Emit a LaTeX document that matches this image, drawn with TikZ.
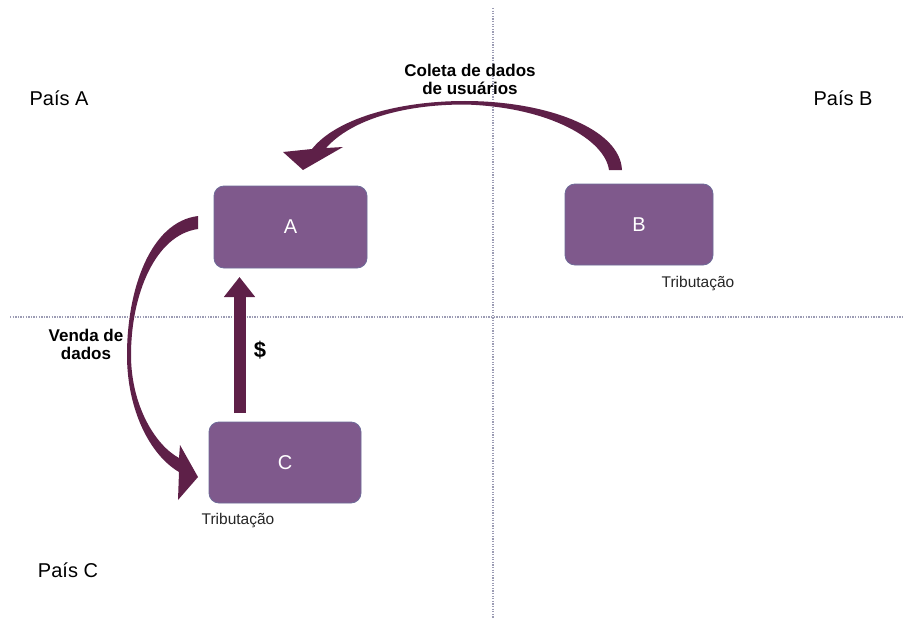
\documentclass[tikz,border=0pt]{standalone}
\usepackage{fontspec}
\setmainfont{Liberation Sans}
\usetikzlibrary{arrows.meta}
\definecolor{boxfill}{HTML}{7F598C}
\definecolor{boxedge}{HTML}{6E6A98}
\definecolor{arrowc}{HTML}{5E2048}
\definecolor{gridc}{HTML}{9C9CB4}
\tikzset{
  box/.style={rounded corners=10pt, fill=boxfill, draw=boxedge, line width=0.8pt, text=white, font=\fontsize{20}{22}\selectfont},
  country/.style={font=\fontsize{20}{22}\selectfont, text=black},
  tax/.style={font=\fontsize{15.5}{17}\selectfont, text=black!85},
  blabel/.style={font=\bfseries\fontsize{17}{18}\selectfont, align=center, text=black},
  sep/.style={gridc, line width=1.1pt, dash pattern=on 1.3pt off 1.3pt},
  bigarrow/.style={fill=arrowc, draw=none}
}
\begin{document}
\begin{tikzpicture}[x=1pt,y=-1pt]
\useasboundingbox[fill=white] (0,0) rectangle (903,618);
% separators
\coordinate (vt) at (493,8);
\coordinate (vb) at (493,618);
\coordinate (hl) at (10,317);
\coordinate (hr) at (903,317);
\draw[sep] (vt) -- (vb);
\draw[sep] (hl) -- (hr);
% boxes
\node[box, minimum width=153pt, minimum height=82pt] (A) at (290.5,227) {A};
\node[box, minimum width=148pt, minimum height=81pt] (B) at (639,224.5) {B};
\node[box, minimum width=152pt, minimum height=81pt] (C) at (285,462.5) {C};
% texts
\node[country] (pa) at (59,98) {País A};
\node[country] (pb) at (843,98) {País B};
\node[country] (pc) at (68,570) {País C};
\node[tax] (tb) at (698,284) {Tributação};
\node[tax] (tc) at (238,521) {Tributação};
\node[blabel] (coleta) at (470,79) {Coleta de dados\\de usuários};
\node[blabel] (venda) at (86,344) {Venda de\\dados};
\node[font=\bfseries\fontsize{22}{24}\selectfont] (dollar) at (260,350) {\$};
% collection arrow B -> A
\fill[bigarrow] (622,170) .. controls (620,128) and (545,101) .. (465,101)
  .. controls (395,101) and (335,120) .. (312,149)
  -- (283,152) -- (303,170) -- (343,147) -- (326,148)
  .. controls (350,121) and (400,104.5) .. (465,104.5)
  .. controls (550,107) and (605,140) .. (609,170) -- cycle;
% sale arrow A -> C
\fill[bigarrow] (198,216) .. controls (150,222) and (127,290) .. (127,355)
  .. controls (127,410) and (150,455) .. (179,472)
  -- (178,500) -- (198,477) -- (180,445) -- (179,458)
  .. controls (155,445) and (131,405) .. (131,355)
  .. controls (131,295) and (155,235) .. (198,229) -- cycle;
% money arrow C -> A
\coordinate (ms) at (239.5,413);
\coordinate (me) at (239.5,277);
\draw[arrowc, line width=12pt, -{Triangle[width=30pt,length=20pt]}] (ms) -- (me);
\end{tikzpicture}
\end{document}
